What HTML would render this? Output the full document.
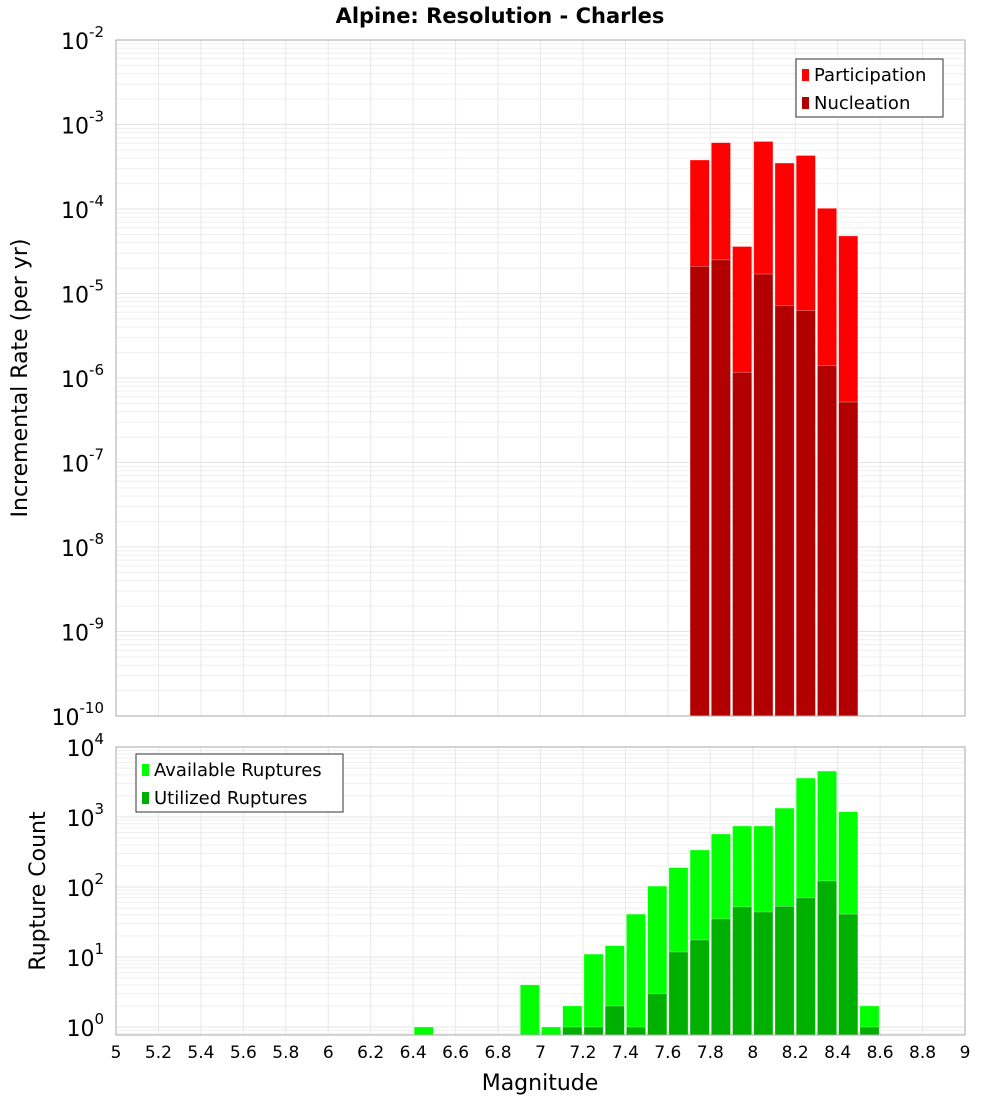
<!DOCTYPE html>
<html><head><meta charset="utf-8"><style>
body{margin:0;background:#fff;font-family:"Liberation Sans","DejaVu Sans",sans-serif}
</style></head><body>
<svg id="c" width="1000" height="1100" xmlns="http://www.w3.org/2000/svg" font-family="DejaVu Sans, Liberation Sans, sans-serif">
<text x="500" y="23" text-anchor="middle" font-size="21" font-weight="bold">Alpine: Resolution - Charles</text>
<g id="topg"></g><g id="botg"></g>
</svg>
<script>
const bins=[6.45,6.95,7.05,7.15,7.25,7.35,7.45,7.55,7.65,7.75,7.85,7.95,8.05,8.15,8.25,8.35,8.45,8.55];
const available=[1,4,1,2,11,14.5,41,103,189,338,572,744,744,1340,3600,4530,1190,2];
const utilized=[0,0,0,1,1,2,1,3,11.8,17.5,35,52,44,53,70,122,41,1];
const rateBins=[7.75,7.85,7.95,8.05,8.15,8.25,8.35,8.45];
const participation=[3.8e-4,6.1e-4,3.6e-5,6.3e-4,3.5e-4,4.3e-4,1.02e-4,4.8e-5];
const nucleation=[2.1e-5,2.5e-5,1.17e-6,1.7e-5,7.2e-6,6.3e-6,1.4e-6,5.2e-7];
const xTicks=[5,5.2,5.4,5.6,5.8,6,6.2,6.4,6.6,6.8,7,7.2,7.4,7.6,7.8,8,8.2,8.4,8.6,8.8,9];
const topExp=[-2,-3,-4,-5,-6,-7,-8,-9,-10];
const botExp=[0,1,2,3,4];
const NS="http://www.w3.org/2000/svg";
const X0=116,X1=965;
const xs=m=>X0+(m-5)/4*(X1-X0);
const T0=40,T1=716;
const yt=v=>T0+(-2-Math.log10(v))*(T1-T0)/8;
const B0=747,B1=1035;
const yb=v=>1027-Math.log10(v)*70;
function el(p,t,a){const e=document.createElementNS(NS,t);for(const k in a)e.setAttribute(k,a[k]);p.appendChild(e);return e;}
const gTop=document.getElementById('topg'),gBot=document.getElementById('botg');
function grid(g,y0,y1,yf,exps){
  for(let i=0;i<exps.length;i++){const e=exps[i];
    for(let k=1;k<10;k++){const y=yf(k*Math.pow(10,e));if(y<y0||y>y1)continue;
      const l=el(g,'line',{x1:X0,x2:X1,y1:y,y2:y,stroke:k==1?'#e4e4e4':'#efefef','stroke-width':1});
      
      }}
  for(const t of xTicks){const l=el(g,'line',{x1:xs(t),x2:xs(t),y1:y0,y2:y1,stroke:'#e8e8e8'});
    
    }
}
grid(gTop,T0,T1,yt,[-10,-9,-8,-7,-6,-5,-4,-3]);
grid(gBot,B0,B1,yb,[-1,0,1,2,3]);
function bar(g,m,v,y1,yf,fill,name){const x=xs(m-0.05)+1,w=xs(m+0.05)-xs(m-0.05)-2;const y=yf(v);
  const r=el(g,'rect',{x:x,y:y,width:w,height:y1-y,fill:fill,stroke:'rgba(255,255,255,0.5)','stroke-width':0.6});
  
  }
rateBins.forEach((m,i)=>bar(gTop,m,participation[i],T1,yt,'#ff0000','participation-bar'));
rateBins.forEach((m,i)=>bar(gTop,m,nucleation[i],T1,yt,'#b20000','nucleation-bar'));
bins.forEach((m,i)=>{if(available[i]>0)bar(gBot,m,available[i],B1,yb,'#00ff00','available-bar');});
bins.forEach((m,i)=>{if(utilized[i]>0)bar(gBot,m,utilized[i],B1,yb,'#00b000','utilized-bar');});
for(const [g,y0,y1] of [[gTop,T0,T1],[gBot,B0,B1]]){const r=el(g,'rect',{x:X0,y:y0,width:X1-X0,height:y1-y0,fill:'none',stroke:'#aaa'});
  
  }
function ylab(g,y,e,name){const t=el(g,'text',{x:104,y:y+9,'text-anchor':'end','font-size':22});
  t.textContent='10';
  const s=el(t,'tspan',{dy:-12,'font-size':15});s.textContent=String(e);
  
  }
topExp.forEach(e=>ylab(gTop,yt(Math.pow(10,e)),e,'top-y-tick-label'));
botExp.forEach(e=>ylab(gBot,yb(Math.pow(10,e)),e,'bottom-y-tick-label'));
xTicks.forEach(t=>{const l=el(gBot,'text',{x:xs(t),y:1058,'text-anchor':'middle','font-size':17});
  l.textContent=String(t);
  
  });
function legend(g,x,y,w,items,name){const r=el(g,'rect',{x:x,y:y,width:w,height:58,fill:'#fff',stroke:'#333'});
  
  
  items.forEach((it,i)=>{const s=el(g,'rect',{x:x+6,y:y+10+i*28,width:7,height:12,fill:it[1]});
    
    
    const t=el(g,'text',{x:x+18,y:y+22+i*28,'font-size':18});t.textContent=it[0];
    
    });}
legend(gTop,796,59,147,[['Participation','#ff0000'],['Nucleation','#b20000']],'top-legend');
legend(gBot,136,754,207,[['Available Ruptures','#00ff00'],['Utilized Ruptures','#00b000']],'bottom-legend');
const a=el(gTop,'text',{x:0,y:0,'font-size':22,'text-anchor':'middle',transform:'translate(27,378) rotate(-90)'});
a.textContent='Incremental Rate (per yr)';


const b=el(gBot,'text',{x:0,y:0,'font-size':22,'text-anchor':'middle',transform:'translate(45,891) rotate(-90)'});
b.textContent='Rupture Count';


const c=el(gBot,'text',{x:540,y:1090,'font-size':22,'text-anchor':'middle'});
c.textContent='Magnitude';


</script>
</body></html>
